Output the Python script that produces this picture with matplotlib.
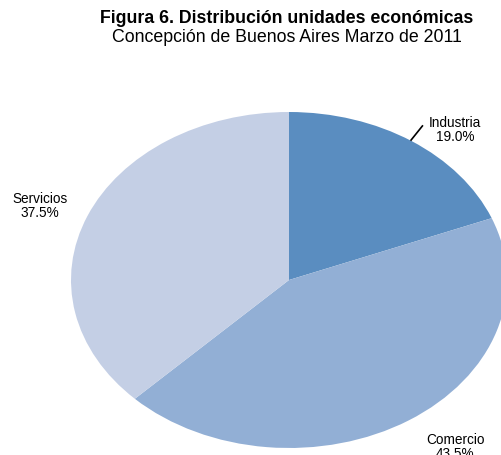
import matplotlib
matplotlib.use('Agg')
import matplotlib.pyplot as plt

# Distribucion de unidades economicas (porcentaje)
sectores = ['Industria', 'Comercio', 'Servicios']
porcentajes = [19.0, 43.5, 37.5]
colores = ['#5A8DC0', '#92AFD5', '#C4CFE5']

plt.rcParams['font.family'] = ['Liberation Sans', 'DejaVu Sans']

fig = plt.figure(figsize=(5.01, 4.55), dpi=100)
ax = fig.add_axes([0, 0, 1, 1])

wedges, _ = ax.pie(porcentajes, colors=colores, startangle=90,
                   counterclock=False, radius=1.0,
                   wedgeprops=dict(linewidth=0))

# el grafico original esta achatado verticalmente
ax.set_aspect('auto')
ax.set_xlim(-1.3257, 0.9725)
ax.set_ylim(-1.0417, 1.6667)
ax.axis('off')

etiquetas = [f'{s}\n{p:.1f}%' for s, p in zip(sectores, porcentajes)]
pos = [(0.762, 0.89), (0.762, -0.995), (-1.142, 0.44)]
for txt, (x, y) in zip(etiquetas, pos):
    ax.text(x, y, txt, ha='center', va='center', fontsize=9.8,
            linespacing=1.0)

# linea guia de Industria
ax.plot([0.560, 0.612], [0.833, 0.917], color='black', linewidth=1.2)

fig.text(0.573, 0.959, 'Figura 6. Distribución unidades económicas',
         ha='center', va='center', fontsize=12.8, fontweight='bold')
fig.text(0.573, 0.918, 'Concepción de Buenos Aires Marzo de 2011',
         ha='center', va='center', fontsize=12.8)

fig.savefig('out.png', dpi=100)
plt.close('all')
